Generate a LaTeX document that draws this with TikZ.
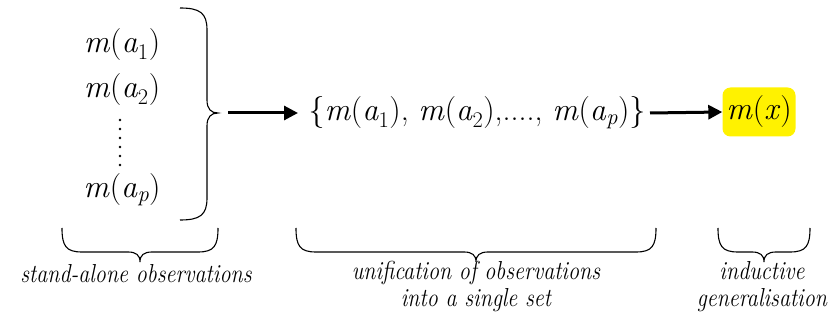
\documentclass[tikz,border=0pt]{standalone}
\usepackage{fontspec}
\newfontfamily\cond[FakeStretch=0.85]{Latin Modern Roman}
\usetikzlibrary{arrows.meta}
\definecolor{hl}{HTML}{FFF200}
\newcommand{\sub}[1]{\textsubscript{#1}}
\newcommand{\mA}[1]{\textit{m}(\textit{a}\sub{\textup{#1}})}
\begin{document}
\begin{tikzpicture}[x=1pt,y=-1pt,
  bigtxt/.style={font=\fontsize{32}{36}\selectfont, inner sep=0pt, anchor=center},
  lbl/.style={font=\cond\fontsize{26}{27}\selectfont\itshape, align=center, inner sep=0pt},
  brc/.style={line width=1.1pt, black},
  arr/.style={line width=3pt, -{Triangle[length=14pt,width=14pt]}}]
\useasboundingbox (0,0) rectangle (833,320);
% left column
\node[bigtxt] (a1) at (122,45) {\mA{1}};
\node[bigtxt] (a2) at (122,90) {\mA{2}};
\node[bigtxt] (ap) at (122,190) {\textit{m}(\textit{a}\sub{\textit{p}})};
\foreach \yy in {120,129,138,147,156,165} \fill (120,\yy) circle (1.3);
% right brace
\draw[brc] (180,8) .. controls (200,8) and (207,13) .. (207,30) -- (207,100)
  .. controls (207,109) and (211,113) .. (218,113)
  .. controls (211,113) and (207,117) .. (207,126) -- (207,198)
  .. controls (207,215) and (200,220) .. (180,220);
\coordinate (tip) at (228,113);
% set
\node[bigtxt] (set) at (477,113) {\{\textit{m}(\textit{a}\sub{1}), \textit{m}(\textit{a}\sub{2}),...., \textit{m}(\textit{a}\sub{\textit{p}})\}};
\node[fill=hl, rounded corners=8pt, minimum width=73pt, minimum height=49pt, inner sep=0pt,
  font=\fontsize{32}{36}\selectfont] (mx) at (759,112) {\textit{m}(\textit{x})};
\draw[arr] (tip) -- (298,113);
\coordinate (s0) at (650,113);
\draw[arr] (s0) -- (mx.west);
% bottom braces
\foreach \xa/\xb in {62/218, 296/656, 718/810}{
  \pgfmathsetmacro\xm{(\xa+\xb)/2}
  \draw[brc] (\xa,228) .. controls (\xa,246) and (\xa+4,252) .. (\xa+20,252)
    -- (\xm-12,252) .. controls (\xm-4,252) and (\xm,255) .. (\xm,262)
    .. controls (\xm,255) and (\xm+4,252) .. (\xm+12,252)
    -- (\xb-20,252) .. controls (\xb-4,252) and (\xb,246) .. (\xb,228);
}
\node[lbl] (l1) at (136,274) {stand-alone observations};
\node[lbl] (l2) at (476,287) {unification of observations\\into a single set};
\node[lbl] (l3) at (762,287) {inductive\\generalisation};
\end{tikzpicture}
\end{document}
